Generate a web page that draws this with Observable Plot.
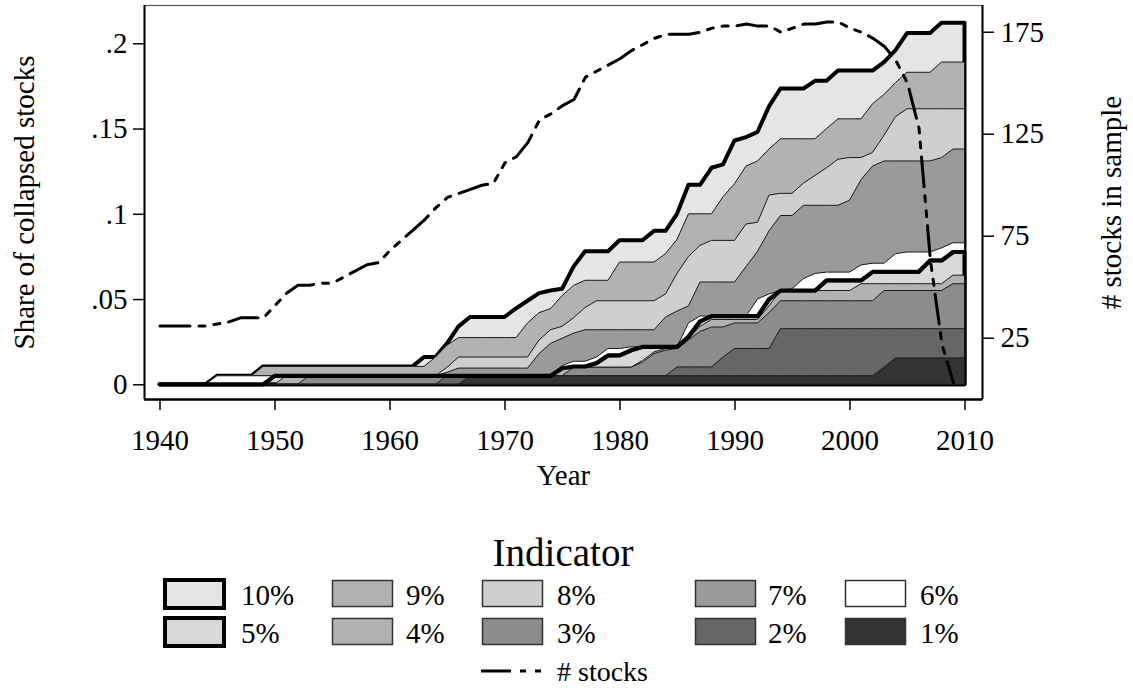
<!DOCTYPE html>
<html><head><meta charset="utf-8">
<script src="https://cdn.jsdelivr.net/npm/d3@7"></script>
<script src="https://cdn.jsdelivr.net/npm/@observablehq/plot@0.6"></script>
<style>
body{margin:0;background:#fff;}
#chart{width:1133px;height:688px;position:relative;overflow:hidden;background:#fff;}
svg{display:block}
</style></head><body><div id="chart"></div>
<script>
// ---------- data ----------
const years = d3.range(1940, 2011);          // 1940..2010
const stockYears = d3.range(1940, 2010);     // 1940..2009

const s10 = [0,0,0,0,0,.005,.005,.005,.005,.0105,
 .0105,.0105,.0105,.0105,.0105,.0105,.0105,.0105,.0105,.0105,
 .0105,.0105,.0105,.016,.016,.024,.034,.0395,.0395,.0395,
 .0395,.0445,.049,.0535,.055,.056,.069,.078,.078,.078,
 .0845,.0845,.0845,.09,.09,.10,.117,.117,.127,.129,
 .143,.145,.148,.163,.1735,.1735,.1735,.178,.178,.184,
 .184,.184,.184,.189,.196,.206,.206,.206,.212,.212,
 .212];
const s9 = [0,0,0,0,0,.005,.005,.005,.005,.0105,
 .0105,.0105,.0105,.0105,.0105,.0105,.0105,.0105,.0105,.0105,
 .0105,.0105,.0105,.0105,.016,.023,.0274,.0274,.0274,.0274,
 .0274,.0274,.036,.042,.0444,.052,.058,.061,.061,.061,
 .0717,.0717,.0717,.0717,.0766,.085,.100,.100,.100,.110,
 .1176,.128,.131,.138,.144,.144,.144,.144,.150,.1557,
 .1557,.1557,.1645,.170,.177,.183,.183,.183,.189,.189,
 .189];
const s8 = [0,0,0,0,0,.005,.005,.005,.005,.005,
 .005,.005,.005,.005,.005,.005,.005,.005,.005,.005,
 .005,.005,.005,.005,.005,.010,.016,.016,.016,.016,
 .016,.016,.016,.026,.032,.034,.039,.045,.049,.049,
 .049,.049,.049,.049,.053,.065,.075,.0815,.0844,.0844,
 .0844,.094,.095,.111,.112,.112,.118,.1225,.127,.132,
 .133,.133,.136,.146,.157,.1616,.1616,.1616,.1616,.1616,
 .1616];
const s7 = [0,0,0,0,0,.005,.005,.005,.005,.005,
 .005,.005,.005,.005,.005,.005,.005,.005,.005,.005,
 .005,.005,.005,.005,.005,.007,.0095,.0095,.0095,.0095,
 .0095,.0095,.0095,.018,.024,.027,.030,.032,.032,.032,
 .032,.032,.032,.032,.0395,.043,.046,.060,.060,.060,
 .060,.069,.078,.090,.099,.099,.105,.105,.105,.105,
 .108,.120,.128,.131,.131,.131,.131,.131,.133,.138,
 .138];
const s6 = [0,0,0,0,0,.005,.005,.005,.005,.005,
 .005,.005,.005,.005,.005,.005,.005,.005,.005,.005,
 .005,.005,.005,.005,.005,.005,.005,.005,.005,.005,
 .005,.005,.005,.005,.005,.011,.0135,.0135,.016,.021,
 .021,.022,.022,.022,.022,.022,.036,.040,.040,.040,
 .040,.040,.050,.053,.055,.056,.062,.065,.0658,.0658,
 .0658,.070,.071,.071,.0766,.0776,.0776,.0776,.080,.083,
 .083];
const s5 = [0,0,0,0,0,0,0,0,0,0,
 .005,.005,.005,.005,.005,.005,.005,.005,.005,.005,
 .005,.005,.005,.005,.005,.005,.005,.005,.005,.005,
 .005,.005,.005,.005,.005,.0095,.0105,.0105,.0125,.017,
 .017,.020,.022,.022,.022,.022,.028,.037,.040,.040,
 .040,.040,.040,.050,.055,.055,.055,.055,.061,.061,
 .061,.061,.066,.066,.066,.066,.066,.0727,.0727,.0776,
 .0776];
const s4 = [0,0,0,0,0,0,0,0,0,0,
 0,.005,.005,.005,.005,.005,.005,.005,.005,.005,
 .005,.005,.005,.005,.005,.005,.005,.005,.005,.005,
 .005,.005,.005,.005,.005,.010,.010,.010,.010,.010,
 .010,.010,.014,.019,.021,.022,.027,.034,.038,.038,
 .038,.038,.038,.046,.055,.055,.055,.055,.055,.055,
 .055,.059,.059,.059,.059,.059,.059,.059,.059,.064,
 .064];
const s3 = [0,0,0,0,0,0,0,0,0,0,
 0,0,0,.005,.005,.005,.005,.005,.005,.005,
 .005,.005,.005,.005,.005,.005,.005,.005,.005,.005,
 .005,.005,.005,.005,.005,.005,.010,.010,.010,.010,
 .010,.010,.013,.018,.020,.021,.026,.031,.0336,.0336,
 .036,.036,.036,.042,.049,.049,.049,.049,.049,.049,
 .049,.049,.049,.055,.055,.055,.055,.055,.055,.059,
 .059];
const s2 = [0,0,0,0,0,0,0,0,0,0,
 0,0,0,0,0,0,0,0,0,0,
 0,0,0,0,0,.005,.005,.005,.005,.005,
 .005,.005,.005,.005,.005,.005,.005,.005,.005,.005,
 .005,.005,.005,.005,.005,.0102,.0102,.0102,.0102,.016,
 .021,.021,.021,.021,.0326,.0326,.0326,.0326,.0326,.0326,
 .0326,.0326,.0326,.0326,.0326,.0326,.0326,.0326,.0326,.0326,
 .0326];
const s1 = [0,0,0,0,0,0,0,0,0,0,
 0,0,0,0,0,0,0,0,0,0,
 0,0,0,0,0,0,0,.005,.005,.005,
 .005,.005,.005,.005,.005,.005,.005,.005,.005,.005,
 .005,.005,.005,.005,.005,.005,.005,.005,.005,.005,
 .005,.005,.005,.005,.005,.005,.005,.005,.005,.005,
 .005,.005,.005,.010,.0155,.0155,.0155,.0155,.0155,.0155,
 .0155];
const stocks = [31,31,31,31,31,32,33,35,35,35,
 41,47,51,51,52,52,55,58,61,62,
 68,73,78,83,89,94,96,98,100,101,
 111,114,121,132,135,139,142,153,156,159,
 162,166,169,172,174,174,174,175,177,178,
 178,179,178,178,175,177,179,179,180,180,
 177,175,172,168,161,150,128,63,22,3];

const labels = ["10%","9%","8%","7%","6%","5%","4%","3%","2%","1%"];
const values = [s10,s9,s8,s7,s6,s5,s4,s3,s2,s1];
const fills  = ["#e5e5e5","#b2b2b2","#cfcfcf","#9a9a9a","#ffffff","#d9d9d9","#b2b2b2","#8c8c8c","#666666","#333333"];
const thick  = [true,false,false,false,false,true,false,false,false,false];

const xTicks = [1940,1950,1960,1970,1980,1990,2000,2010];
const leftTicks = [0,.05,.1,.15,.2];
const rightTicks = [25,75,125,175];

// ---------- chart ----------
const FONT = '"Liberation Serif","Times New Roman",serif';
const xDomain = [1938.652, 2011.522];
const yDomain = [-0.00862, 0.22246];
const nDomain = [-5.05, 188.1];
const toLeft = d3.scaleLinear(nDomain, yDomain);

const seriesRows = values.map((vals, k) => years.map((year, i) => ({year, value: vals[i], label: labels[k]})));
const stockRows = stockYears.map((year, i) => ({year, n: stocks[i]}));

const areaMarks = seriesRows.map((rows, k) => Plot.areaY(rows, {
  x: "year", y1: 0, y2: "value", curve: "linear",
  fill: fills[k],
  stroke: thick[k] ? "#000" : "#1a1a1a",
  strokeWidth: thick[k] ? 4 : 1
}));
// the thick outline of the 5% series stays visible over the lower series, as in the reference
const outline5 = Plot.line(seriesRows[5], {x: "year", y: "value", curve: "linear", stroke: "#000", strokeWidth: 3.2});

const fmtLeft = d => d === 0 ? "0" : String(d).replace(/^0/, "");

const plot = Plot.plot({
  width: 1133, height: 500,
  marginLeft: 144, marginRight: 151, marginTop: 5, marginBottom: 101,
  x: {domain: xDomain, label: null},
  y: {domain: yDomain, label: null},
  style: {fontFamily: FONT, fontSize: "29px", color: "#000", background: "#fff"},
  marks: [
    ...areaMarks,
    outline5,
    Plot.line(stockRows, {x: "year", y: d => toLeft(d.n), stroke: "#000", strokeWidth: 3,
      strokeDasharray: "30,9,6,9,6,9", curve: "linear"}),
    Plot.frame({stroke: "#555", strokeWidth: 1.2}),
    Plot.ruleX([xDomain[0]], {stroke: "#000", strokeWidth: 2}),
    Plot.ruleX([xDomain[1]], {stroke: "#000", strokeWidth: 2}),
    Plot.ruleY([yDomain[0]], {stroke: "#000", strokeWidth: 2.4}),
    Plot.axisX(xTicks, {tickSize: 11, tickPadding: 19, tickFormat: d => String(d), strokeWidth: 1.5, label: null, fontSize: 29}),
    Plot.axisY(leftTicks, {anchor: "left", tickSize: 11, tickPadding: 6, tickFormat: fmtLeft, strokeWidth: 1.5, label: null, fontSize: 29}),
    Plot.axisY(rightTicks.map(n => toLeft(n)), {anchor: "right", tickSize: 11, tickPadding: 7,
      tickFormat: d => String(Math.round(toLeft.invert(d))), strokeWidth: 1.5, label: null, fontSize: 29}),
    Plot.text(["Share of collapsed stocks"], {text: d => d, frameAnchor: "left", dx: -120, rotate: -90,
      textAnchor: "middle", lineAnchor: "middle", fontSize: 29, fill: "#000"}),
    Plot.text(["# stocks in sample"], {text: d => d, frameAnchor: "right", dx: 129, rotate: -90,
      textAnchor: "middle", lineAnchor: "middle", fontSize: 29, fill: "#000"}),
    Plot.text(["Year"], {text: d => d, frameAnchor: "bottom", dy: 76, textAnchor: "middle", lineAnchor: "middle", fontSize: 29, fill: "#000"})
  ]
});
document.getElementById("chart").appendChild(plot);

// ---------- legend ----------
const oy = 500;
const leg = d3.create("svg").attr("width", 1133).attr("height", 188).style("font-family", FONT);
leg.append("text").attr("x", 563).attr("y", 566 - oy).attr("text-anchor", "middle")
  .attr("font-size", 39).attr("fill", "#000").text("Indicator");
const colSw = [164, 332, 482, 695, 845];
const colLb = [241, 406, 557, 768, 920];
const rowTop = [580, 618];
const rowBase = [605, 643];
labels.forEach((lab, k) => {
  const r = k < 5 ? 0 : 1, c = k % 5;
  const g = leg.append("g");
  if (thick[k]) {
    g.append("rect").attr("x", colSw[c] + 1).attr("y", rowTop[r] - oy).attr("width", 59).attr("height", 28)
      .attr("fill", fills[k]).attr("stroke", "#000").attr("stroke-width", 4);
  } else {
    g.append("rect").attr("x", colSw[c] + 0.5).attr("y", rowTop[r] + 0.5 - oy).attr("width", 60).attr("height", 26)
      .attr("fill", fills[k]).attr("stroke", "#333").attr("stroke-width", 1.5);
  }
  g.append("text").attr("x", colLb[c]).attr("y", rowBase[r] - oy).attr("font-size", 29).attr("fill", "#000").text(lab);
});
leg.append("line").attr("x1", 481).attr("x2", 541).attr("y1", 671 - oy).attr("y2", 671 - oy)
  .attr("stroke", "#000").attr("stroke-width", 3).attr("stroke-dasharray", "30,9,6,9,6,9");
leg.append("text").attr("x", 557).attr("y", 681 - oy).attr("font-size", 28).attr("fill", "#000").text("# stocks");
document.getElementById("chart").appendChild(leg.node());
</script></body></html>
